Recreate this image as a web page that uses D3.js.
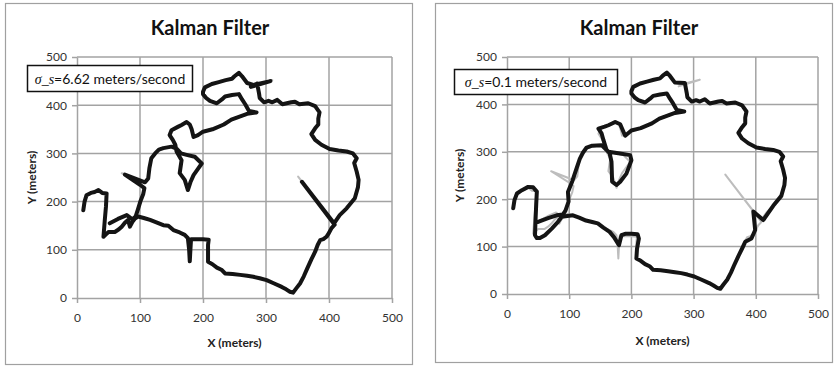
<!DOCTYPE html>
<html>
<head>
<meta charset="utf-8">
<script src="https://cdn.jsdelivr.net/npm/d3@7"></script>
<style>
  body { margin: 0; background: #fff; }
  svg { display: block; }
</style>
</head>
<body>
<svg id="chart" width="837" height="367"></svg>
<script>
// Axis ticks (meters), same on both axes
const tickValues = [0, 100, 200, 300, 400, 500];

// Raw measured track (grey), [x, y] in meters
const measured = [
  [10, 182], [12, 200], [15, 213], [22, 218], [28, 220], [34, 224], [40, 218], [47, 217],
  [46, 190], [44, 160], [42, 127], [46, 132], [50, 137], [60, 137], [66, 142], [71, 148],
  [76, 156], [81, 162], [84, 148], [88, 158], [92, 165],
  [97, 169], [106, 166], [116, 162], [126, 157], [137, 151], [145, 150], [153, 141], [163, 136],
  [171, 131], [176, 124], [178, 100], [179, 75], [180, 100], [181, 122], [190, 122], [200, 122],
  [209, 121], [208, 110], [208, 90], [208, 75], [215, 70], [222, 63], [230, 58], [235, 51],
  [247, 50], [259, 48], [270, 46], [280, 44], [290, 41], [301, 37], [313, 30], [325, 23],
  [332, 18], [338, 13], [343, 11], [348, 20], [354, 30], [360, 45], [365, 60], [372, 80],
  [378, 96], [382, 110], [386, 120], [391, 122], [396, 127], [400, 135], [404, 145], [409, 152],
  [351, 252], [408, 155],
  [417, 172], [428, 186], [441, 207], [446, 230], [447, 245], [444, 262], [440, 280], [444, 290],
  [438, 300], [428, 304], [415, 306], [401, 309], [388, 318], [378, 328], [372, 340], [378, 352],
  [383, 360], [383, 372], [385, 385], [378, 398], [367, 404], [360, 403], [353, 402], [346, 407],
  [340, 406], [333, 404], [326, 402], [318, 411], [310, 406], [304, 409], [297, 406], [290, 415],
  [289, 424], [286, 445],
  [276, 438], [310, 452], [280, 442],
  [270, 446], [262, 460], [257, 467], [250, 460], [246, 455], [236, 452], [225, 448], [214, 444],
  [203, 437], [200, 428], [200, 423], [205, 415], [211, 409], [222, 404], [230, 412], [235, 418],
  [246, 421], [257, 423], [262, 412], [267, 402], [273, 388], [285, 385],
  [270, 382], [257, 376], [245, 370], [233, 360], [215, 350], [200, 345], [192, 338], [185, 334],
  [182, 350], [179, 360], [174, 365], [166, 359], [160, 355], [150, 348], [147, 338], [152, 328],
  [156, 318], [158, 304],
  [166, 286], [163, 259], [171, 245], [176, 224], [180, 240], [185, 255], [192, 268], [198, 279],
  [187, 293], [174, 297], [165, 300], [158, 310],
  [150, 314], [137, 311], [130, 308], [124, 300], [118, 290], [115, 270], [113, 248], [108, 240],
  [71, 259], [100, 235], [107, 228],
  [105, 215], [101, 202], [97, 185], [93, 169], [88, 163],
  [79, 172], [65, 164], [52, 155]
];

// Kalman estimate, sigma_s = 6.62 m/s (follows the measurements closely)
const filteredHigh = [
  [10, 182], [12, 200], [15, 213], [22, 218], [28, 220], [34, 224], [40, 218], [47, 217],
  [46, 190], [44, 160], [42, 127], [46, 132], [50, 137], [60, 137], [66, 142], [71, 148],
  [76, 156], [81, 162], [84, 148], [88, 158], [92, 165],
  [97, 169], [106, 166], [116, 162], [126, 157], [137, 151], [145, 150], [153, 141], [163, 136],
  [171, 131], [176, 124], [178, 100], [179, 76], [180, 100], [181, 122], [190, 122], [200, 122],
  [209, 121], [208, 110], [208, 90], [208, 75], [215, 70], [222, 63], [230, 58], [235, 51],
  [247, 50], [259, 48], [270, 46], [280, 44], [290, 41], [301, 37], [313, 30], [325, 23],
  [332, 18], [338, 13], [343, 11], [348, 20], [354, 30], [360, 45], [365, 60], [372, 80],
  [378, 96], [382, 110], [386, 120], [391, 122], [396, 127], [400, 135], [404, 145], [409, 152],
  [357, 241], [408, 155],
  [417, 172], [428, 186], [441, 207], [446, 230], [447, 245], [444, 262], [440, 280], [444, 290],
  [438, 300], [428, 304], [415, 306], [401, 309], [388, 318], [378, 328], [372, 340], [378, 352],
  [383, 360], [383, 372], [385, 385], [378, 398], [367, 404], [360, 403], [353, 402], [346, 407],
  [340, 406], [333, 404], [326, 402], [318, 411], [310, 406], [304, 409], [297, 406], [290, 415],
  [289, 424], [286, 445],
  [276, 438], [307, 450], [280, 442],
  [270, 446], [262, 460], [257, 467], [250, 460], [246, 455], [236, 452], [225, 448], [214, 444],
  [203, 437], [200, 428], [200, 423], [205, 415], [211, 409], [222, 404], [230, 412], [235, 418],
  [246, 421], [257, 423], [262, 412], [267, 402], [273, 388], [285, 385],
  [270, 382], [257, 376], [245, 370], [233, 360], [215, 350], [200, 345], [192, 338], [185, 334],
  [182, 350], [179, 360], [174, 365], [166, 359], [160, 355], [150, 348], [147, 338], [152, 328],
  [156, 318], [158, 304],
  [166, 286], [163, 259], [171, 245], [176, 224], [180, 240], [185, 255], [192, 268], [198, 279],
  [187, 293], [174, 297], [165, 300], [158, 310],
  [150, 314], [137, 311], [130, 308], [124, 300], [118, 290], [115, 270], [113, 248], [108, 240],
  [76, 256], [100, 235], [107, 228],
  [105, 215], [101, 202], [97, 185], [93, 169], [88, 163],
  [79, 172], [65, 164], [52, 155]
];

// Kalman estimate, sigma_s = 0.1 m/s (smoothed, spikes rejected)
const filteredLow = [
  [10, 181], [12, 198], [16, 212], [24, 219], [34, 226], [42, 225], [48, 216], [47, 190],
  [46, 160], [45, 124], [48, 118], [53, 118], [61, 124], [72, 138], [82, 152], [88, 163],
  [106, 166], [116, 161], [127, 155], [137, 152], [146, 149], [155, 140], [165, 131], [172, 120],
  [180, 103], [184, 124], [190, 127], [200, 127], [210, 126], [212, 117], [209, 95], [208, 75],
  [215, 70], [222, 63], [230, 58], [235, 51], [247, 50], [259, 48], [270, 46], [280, 44],
  [290, 41], [301, 37], [313, 30], [325, 23], [332, 18], [338, 13], [343, 11], [348, 20],
  [354, 30], [360, 45], [365, 60], [372, 80], [378, 96], [383, 110], [393, 117], [399, 135],
  [396, 174], [412, 156], [428, 186], [441, 207], [446, 230], [447, 245], [444, 262], [440, 280],
  [444, 290], [438, 300], [428, 304], [415, 306], [401, 309], [388, 318], [378, 328], [372, 340],
  [378, 352], [383, 360], [383, 372], [385, 385], [378, 398], [367, 404], [360, 403], [353, 402],
  [346, 407], [340, 406], [333, 404], [326, 402], [318, 411], [310, 406], [304, 409], [297, 406],
  [290, 415], [289, 424], [286, 445], [270, 446], [262, 460], [257, 467], [250, 460], [246, 455],
  [236, 452], [225, 448], [214, 444], [203, 437], [200, 428], [200, 423], [205, 415], [211, 409],
  [222, 404], [230, 412], [235, 418], [246, 421], [257, 423], [262, 412], [267, 402], [273, 388],
  [285, 385], [270, 382], [257, 376], [245, 370], [233, 360], [215, 350], [200, 345], [190, 334],
  [182, 358], [174, 363], [163, 356], [157, 353], [147, 349], [152, 339], [155, 325], [160, 304],
  [165, 297], [168, 279], [169, 237], [176, 230], [182, 237], [192, 254], [200, 282], [198, 293],
  [179, 297], [163, 300], [152, 314], [137, 313], [128, 309], [122, 298], [117, 285], [111, 262],
  [105, 238], [98, 215], [99, 195], [94, 176], [90, 168],
  [80, 166], [66, 160], [50, 152]
];

const chartTitle = 'Kalman Filter';
const xTitle = 'X (meters)';
const yTitle = 'Y (meters)';
const sigmaLabel = 'σ_s';
const sigmaValues = ['6.62 meters/second', '0.1 meters/second'];

const FONT = 'Lato, "Open Sans", sans-serif';
const GRID = '#a3a3a3';

// Panel geometry (pixels)
const panels = [
  {
    frame: { x: 5.5, y: 3.5, w: 407, h: 361 },
    plot: { l: 77, r: 392, t: 57, b: 298 },
    titleX: 210, xTitleY: 347, yTitleX: 32,
    legend: { x: 27.5, y: 65.5, w: 165, h: 26 },
    est: filteredHigh, sigma: sigmaValues[0]
  },
  {
    frame: { x: 435.5, y: 3.5, w: 397, h: 359 },
    plot: { l: 507, r: 818, t: 57, b: 294 },
    titleX: 639, xTitleY: 345, yTitleX: 460,
    legend: { x: 454.5, y: 69.5, w: 163, h: 25 },
    est: filteredLow, sigma: sigmaValues[1]
  }
];

const svg = d3.select('#chart');

panels.forEach(p => {
  const g = svg.append('g');
  const x = d3.scaleLinear().domain([0, 500]).range([p.plot.l, p.plot.r]);
  const y = d3.scaleLinear().domain([0, 500]).range([p.plot.b, p.plot.t]);

  // chart frame
  g.append('rect')
    .attr('x', p.frame.x).attr('y', p.frame.y)
    .attr('width', p.frame.w).attr('height', p.frame.h)
    .attr('fill', '#fff').attr('stroke', '#a0a0a0').attr('stroke-width', 1.2);

  // gridlines
  g.append('g').selectAll('line')
    .data(tickValues.slice(1))
    .join('line')
    .attr('x1', d => x(d)).attr('x2', d => x(d))
    .attr('y1', y(0)).attr('y2', y(500))
    .attr('stroke', GRID).attr('stroke-width', 1.5);
  g.append('g').selectAll('line')
    .data(tickValues.slice(1))
    .join('line')
    .attr('x1', x(0)).attr('x2', x(500))
    .attr('y1', d => y(d)).attr('y2', d => y(d))
    .attr('stroke', GRID).attr('stroke-width', 1.5);

  // axes
  const xAxis = g.append('g')
    .attr('transform', `translate(0,${y(0)})`)
    .call(d3.axisBottom(x).tickValues(tickValues).tickSize(5).tickSizeOuter(0).tickPadding(10));
  const yAxis = g.append('g')
    .attr('transform', `translate(${x(0)},0)`)
    .call(d3.axisLeft(y).tickValues(tickValues).tickSize(5).tickSizeOuter(0).tickPadding(5));
  [xAxis, yAxis].forEach(a => {
    a.select('.domain').attr('stroke', GRID).attr('stroke-width', 1.5);
    a.selectAll('.tick line').attr('stroke', GRID).attr('stroke-width', 1.5);
    a.selectAll('.tick text')
      .attr('font-family', FONT).attr('font-size', 12).attr('fill', '#333');
  });

  // series: measured (grey) beneath, estimate (black) on top
  const line = d3.line().x(d => x(d[0])).y(d => y(d[1]));
  g.append('path')
    .datum(measured)
    .attr('d', line)
    .attr('fill', 'none')
    .attr('stroke', '#bdbdbd')
    .attr('stroke-width', 2)
    .attr('stroke-linejoin', 'round');
  g.append('path')
    .datum(p.est)
    .attr('d', line)
    .attr('fill', 'none')
    .attr('stroke', '#141414')
    .attr('stroke-width', 4)
    .attr('stroke-linejoin', 'round')
    .attr('stroke-linecap', 'round');

  // titles
  g.append('text')
    .attr('x', p.titleX).attr('y', 35)
    .attr('text-anchor', 'middle')
    .attr('font-family', FONT).attr('font-weight', 'bold').attr('font-size', 20)
    .attr('fill', '#111')
    .text(chartTitle);
  g.append('text')
    .attr('x', (p.plot.l + p.plot.r) / 2).attr('y', p.xTitleY)
    .attr('text-anchor', 'middle')
    .attr('font-family', FONT).attr('font-weight', 'bold').attr('font-size', 12)
    .attr('fill', '#222')
    .text(xTitle);
  g.append('text')
    .attr('transform', `translate(${p.yTitleX},${(p.plot.t + p.plot.b) / 2}) rotate(-90)`)
    .attr('text-anchor', 'middle')
    .attr('dy', '0.35em')
    .attr('font-family', FONT).attr('font-weight', 'bold').attr('font-size', 12)
    .attr('fill', '#222')
    .text(yTitle);

  // legend box
  const lg = p.legend;
  g.append('rect')
    .attr('x', lg.x).attr('y', lg.y).attr('width', lg.w).attr('height', lg.h)
    .attr('fill', '#fff').attr('stroke', '#111').attr('stroke-width', 1.5);
  const t = g.append('text')
    .attr('x', lg.x + lg.w / 2).attr('y', lg.y + lg.h / 2)
    .attr('dy', '0.36em')
    .attr('text-anchor', 'middle')
    .attr('font-family', FONT).attr('font-size', 14)
    .attr('fill', '#111');
  t.append('tspan')
    .attr('font-family', '"Liberation Serif", serif')
    .attr('font-style', 'italic')
    .text(sigmaLabel);
  t.append('tspan').text('=' + p.sigma);
});
</script>
</body>
</html>
